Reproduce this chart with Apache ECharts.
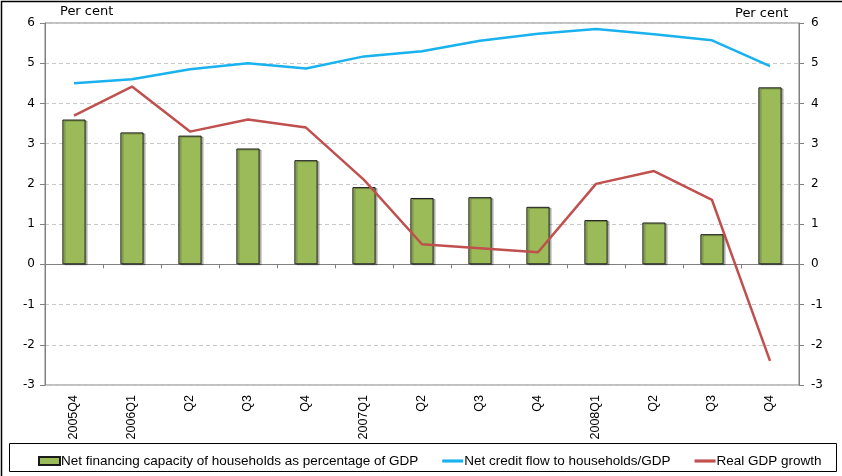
<!DOCTYPE html>
<html>
<head>
<meta charset="utf-8">
<script src="https://cdn.jsdelivr.net/npm/echarts@6/dist/echarts.min.js"></script>
<style>
  html, body { margin: 0; padding: 0; background: #fff; }
  #chart { width: 842px; height: 476px; }
</style>
</head>
<body>
<div id="chart"></div>
<script>
// quarters on the x axis
const quarters = ['2005Q4', '2006Q1', 'Q2', 'Q3', 'Q4', '2007Q1', 'Q2', 'Q3', 'Q4', '2008Q1', 'Q2', 'Q3', 'Q4'];
// net financing capacity of households, % of GDP (bars)
const netFinancing = [3.6, 3.28, 3.2, 2.88, 2.59, 1.92, 1.65, 1.67, 1.43, 1.1, 1.04, 0.75, 4.4];
// net credit flow to households / GDP
const creditFlow = [4.5, 4.6, 4.85, 5.0, 4.87, 5.17, 5.3, 5.56, 5.73, 5.85, 5.72, 5.57, 4.93];
// real GDP growth
const gdpGrowth = [3.7, 4.42, 3.3, 3.6, 3.4, 2.1, 0.5, 0.4, 0.3, 2.0, 2.32, 1.6, -2.4];

const chart = echarts.init(document.getElementById('chart'));

const axisGrey = '#808080';
const tickFont = { fontFamily: 'DejaVu Sans', fontSize: 12, color: '#000' };
const lineIcon = 'path://M0,0H20V3H0Z';

const yAxisBase = {
    type: 'value',
    min: -3,
    max: 6,
    interval: 1,
    axisLine: { show: true, lineStyle: { color: axisGrey } },
    axisTick: { show: true, length: 5, lineStyle: { color: axisGrey } },
    splitLine: { show: true, lineStyle: { color: '#c8c8c8', type: [4, 3] } },
};

const option = {
    animation: false,
    backgroundColor: '#fff',
    grid: {
        left: 45, right: 43, top: 23, bottom: 91,
        show: true, borderColor: axisGrey, borderWidth: 1
    },
    graphic: [
        // outer frame
        { type: 'rect', shape: { x: 1.5, y: 1.5, width: 860, height: 500 },
          style: { fill: null, stroke: '#000', lineWidth: 1.5 }, silent: true },
        // legend box
        { type: 'rect', shape: { x: 9.5, y: 443.5, width: 827, height: 28 },
          style: { fill: null, stroke: '#000', lineWidth: 1 }, silent: true },
        { type: 'text', left: 60, top: 5,
          style: { text: 'Per cent', font: '13px "DejaVu Sans"', fill: '#000' } },
        { type: 'text', left: 735, top: 7,
          style: { text: 'Per cent', font: '13px "DejaVu Sans"', fill: '#000' } }
    ],
    legend: {
        left: 33,
        top: 449,
        itemGap: 24,
        itemWidth: 21,
        itemHeight: 8,
        textStyle: { fontFamily: 'Liberation Sans', fontSize: 13.5, color: '#000', padding: [0, 0, 0, -4] },
        data: [
            { name: 'Net financing capacity of households as percentage of GDP', icon: 'rect' },
            { name: 'Net credit flow to households/GDP', icon: lineIcon },
            { name: 'Real GDP growth', icon: lineIcon }
        ]
    },
    xAxis: [
        {
            type: 'category',
            data: quarters,
            position: 'bottom',
            axisLine: { onZero: false, show: false },
            axisTick: { show: false },
            axisLabel: {
                interval: 0, rotate: 90, margin: 10,
                fontFamily: 'Liberation Sans', fontSize: 12.5, color: '#000'
            }
        },
        {
            type: 'category',
            data: quarters,
            position: 'bottom',
            axisLine: { onZero: true, lineStyle: { color: axisGrey } },
            axisTick: { show: true, length: 4, lineStyle: { color: axisGrey } },
            axisLabel: { show: false }
        }
    ],
    yAxis: [
        Object.assign({}, yAxisBase, {
            position: 'left',
            axisLabel: Object.assign({ margin: 10 }, tickFont)
        }),
        Object.assign({}, yAxisBase, {
            position: 'right',
            splitLine: { show: false },
            axisLabel: Object.assign({ margin: 12 }, tickFont)
        })
    ],
    series: [
        {
            name: 'Net financing capacity of households as percentage of GDP',
            type: 'bar',
            xAxisIndex: 0,
            yAxisIndex: 0,
            data: netFinancing,
            barWidth: '40%',
            itemStyle: {
                color: '#9BBB59',
                borderColor: '#1a1a1a',
                borderWidth: 1,
                shadowColor: 'rgba(0,0,0,0.25)',
                shadowOffsetX: 2,
                shadowOffsetY: 1
            }
        },
        {
            name: 'Net credit flow to households/GDP',
            type: 'line',
            xAxisIndex: 0,
            yAxisIndex: 0,
            data: creditFlow,
            symbol: 'none',
            color: '#19B2EE',
            lineStyle: { width: 2.5, color: '#19B2EE' }
        },
        {
            name: 'Real GDP growth',
            type: 'line',
            xAxisIndex: 0,
            yAxisIndex: 0,
            data: gdpGrowth,
            symbol: 'none',
            color: '#C0504D',
            lineStyle: { width: 2.5, color: '#C0504D' }
        }
    ]
};

chart.setOption(option);
</script>
</body>
</html>
